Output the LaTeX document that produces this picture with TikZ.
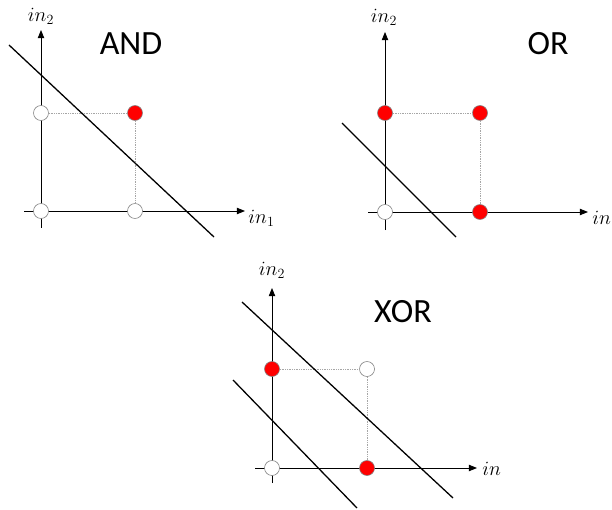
\documentclass[tikz,border=0pt]{standalone}
\usepackage{fontspec}
\newfontfamily\gatefont{Carlito}
\usetikzlibrary{arrows.meta}

\tikzset{
  axis/.style={line width=0.7pt,-{Triangle[length=7pt,width=5.5pt]}},
  sep/.style={line width=1.1pt},
  dotline/.style={gray!70,line width=0.5pt,densely dotted},
  offpt/.style={circle,draw=gray,fill=white,line width=0.5pt,minimum size=0.45cm,inner sep=0pt},
  onpt/.style={offpt,fill=red},
  axlabel/.style={font=\fontsize{18}{20}\selectfont,inner sep=1pt},
  gatename/.style={font=\gatefont\fontsize{29}{32}\selectfont}
}

\begin{document}
\begin{tikzpicture}[x=0.03cm,y=-0.03cm]
  \useasboundingbox (0,0) rectangle (612,510);
  % AND
  \draw[axis] (24,211) -- (245,211);
  \draw[axis] (41,228) -- (41,30);
  \node[axlabel] (andy) at (41,16) {$in_2$};
  \node[axlabel,anchor=west] (andx) at (247,218) {$in_1$};
  \node[gatename] (andname) at (131,44) {AND};
  \node[offpt] (a00) at (41,211) {};
  \node[offpt] (a10) at (135,211) {};
  \node[offpt] (a01) at (41,113) {};
  \node[onpt] (a11) at (135,113) {};
  \draw[dotline] (a01) -- (a11);
  \draw[dotline] (a11) -- (a10);
  \draw[sep] (9,45) -- (214,237);
  % OR
  \draw[axis] (368,212) -- (588,212);
  \draw[axis] (385,230) -- (385,32);
  \node[axlabel] (ory) at (384,17) {$in_2$};
  \node[axlabel,anchor=west] (orx) at (591,219) {$in_1$};
  \node[gatename] (orname) at (548,44) {OR};
  \node[offpt] (o00) at (385,212) {};
  \node[onpt] (o10) at (480,212) {};
  \node[onpt] (o01) at (385,113) {};
  \node[onpt] (o11) at (480,113) {};
  \draw[dotline] (o01) -- (o11);
  \draw[dotline] (o11) -- (o10);
  \draw[sep] (342,123) -- (456,237);
  % XOR
  \draw[axis] (255,468) -- (477,468);
  \draw[axis] (272,483) -- (272,288);
  \node[axlabel] (xory) at (272,270) {$in_2$};
  \node[axlabel,anchor=west] (xorx) at (481,469) {$in$};
  \node[gatename] (xorname) at (403,312) {XOR};
  \node[offpt] (x00) at (272,468) {};
  \node[onpt] (x10) at (367,468) {};
  \node[onpt] (x01) at (272,369) {};
  \node[offpt] (x11) at (367,369) {};
  \draw[dotline] (x01) -- (x11);
  \draw[dotline] (x11) -- (x10);
  \draw[sep] (242,302) -- (453,498);
  \draw[sep] (233,380) -- (357,508);
\end{tikzpicture}
\end{document}
